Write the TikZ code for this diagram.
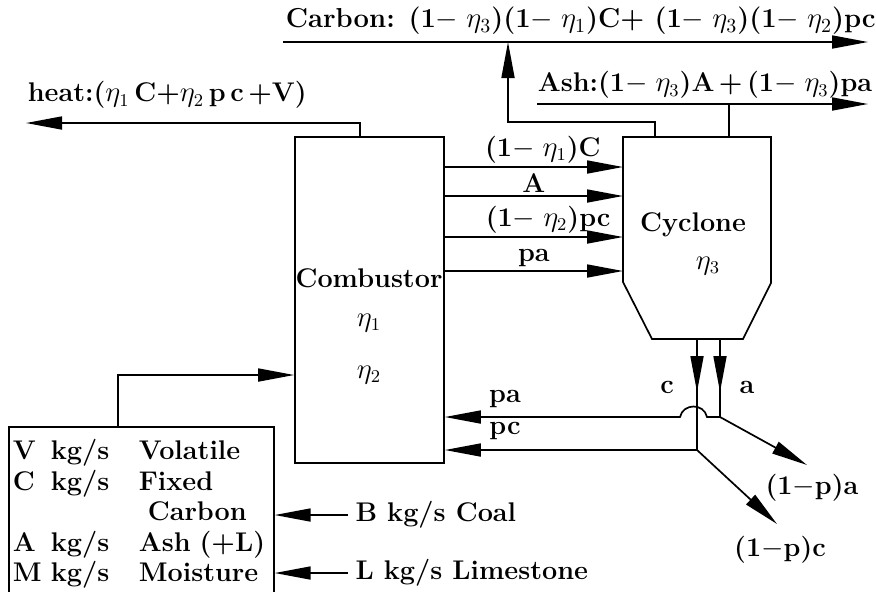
\documentclass[tikz,border=0pt]{standalone}
\usepackage{fontspec}
\usepackage{array}
\usetikzlibrary{arrows.meta}
\newcommand{\oneminus}[1]{(1$-\;\eta_{#1}$)}

\begin{document}
\begin{tikzpicture}[x=0.5pt,y=-0.5pt,line width=0.85pt,
  >={Triangle[length=18pt,width=6.5pt]},
  every node/.style={font=\fontsize{13.5}{15.25}\selectfont\bfseries},
  flow/.style={above,inner sep=1.5pt},
  eqn/.style={anchor=west,inner sep=0pt,font=\fontsize{13.7}{16}\selectfont\bfseries}]
  \useasboundingbox (0,0) rectangle (876,591);
  % combustor
  \node[draw,minimum width=74.5pt,minimum height=163pt] (comb) at (369.5,300) {};
  \node (combname) at (369,278) {Combustor};
  \node (eta1) at (369,323) {$\eta_1$};
  \node (eta2) at (369,375) {$\eta_2$};
  % cyclone
  \draw (623,282) -- (623,137) coordinate (cyc nw) -- (771,137) coordinate (cyc ne)
    -- (771,283) -- (743,339) coordinate (cyc se) -- (652,339) coordinate (cyc sw) -- cycle;
  \node[font=\fontsize{13.5}{15.25}\selectfont\bfseries\addfontfeature{LetterSpace=16}] (cycname) at (693,225) {Cyclone};
  \node (eta3) at (708,266) {$\eta_3$};
  % streams into the cyclone
  \coordinate (in1) at (623,167);
  \coordinate (in2) at (623,196);
  \coordinate (in3) at (623,237);
  \coordinate (in4) at (623,271);
  \draw[->] (comb.east |- in1) -- (in1) node[flow,pos=0.55] {\oneminus1C};
  \draw[->] (comb.east |- in2) -- (in2) node[flow,midway] {A};
  \draw[->] (comb.east |- in3) -- (in3) node[flow,pos=0.58] {\oneminus2pc};
  \draw[->] (comb.east |- in4) -- (in4) node[flow,midway] {pa};
  % heat
  \coordinate (heatend) at (26,123);
  \draw[->] ([xshift=33pt]comb.north west) |- (heatend);
  \node[anchor=west,inner sep=0pt] (heat) at (27,95) {heat:($\eta_1\,$C+$\eta_2\,$p\,c\,+V)};
  % carbon and ash out of the cyclone
  \coordinate (cstart) at (283,42);
  \coordinate (cend) at (868,42);
  \coordinate (cup) at (508,42);
  \draw[->] (cstart) -- (cend);
  \draw[->] ([xshift=16pt]cyc nw) -- ++(0,-15) -| (cup);
  \node[eqn] (carbon) at (285,21) {Carbon: \oneminus3\oneminus1C+ \oneminus3\oneminus2pc};
  \coordinate (astart) at (537,104);
  \coordinate (aend) at (868,104);
  \draw[->] (astart) -- (aend);
  \draw ([xshift=53pt]cyc nw) -- ([xshift=53pt]cyc nw |- astart);
  \node[anchor=west,inner sep=0pt] (ash) at (537,85) {Ash:\oneminus3A\,+\,\oneminus3pa};
  % underflow of the cyclone
  \coordinate (cout) at (697,339);
  \coordinate (aout) at (720,339);
  \coordinate (cjoin) at (697,450);
  \coordinate (ajoin) at (720,417);
  \draw[->] (cout) -- ++(0,53);
  \draw[->] (aout) -- ++(0,53);
  \draw (cout) -- (cjoin);
  \draw (aout) -- (ajoin);
  \node (clbl) at (667,387) {c};
  \node (albl) at (747,387) {a};
  \draw[->] (ajoin) -- (707,417) .. controls (704,403) and (683,403) .. (680,417) -- (comb.east |- ajoin);
  \draw[->] (cjoin) -- (comb.east |- cjoin);
  \node (palbl) at (505,399) {pa};
  \node (pclbl) at (505,431) {pc};
  \coordinate (aleave) at (807,465);
  \coordinate (cleave) at (777,524);
  \draw[->] (ajoin) -- (aleave);
  \draw[->] (cjoin) -- (cleave);
  \node (alost) at (812,488) {(1$-$p)a};
  \node (clost) at (780,550) {(1$-$p)c};
  % coal feed
  \node[draw,anchor=north west,text width=128.5pt,inner xsep=2pt,inner ysep=5.8pt,align=left] (feed) at (8,426)
    {\addfontfeature{LetterSpace=3}\begin{tabular}{@{}p{19pt}@{}p{44pt}@{}l@{}}
     V & kg/s & Volatile\\
     C & kg/s & Fixed\\
       &      & \,\,Carbon\\
     A & kg/s & Ash (+L)\\
     M & kg/s & Moisture
     \end{tabular}};
  \draw[->] ([xshift=55pt]feed.north west) |- (comb.west |- eta2);
  \node[anchor=west] (coal) at (348,515) {B kg/s Coal};
  \node[anchor=west] (lime) at (348,573) {L kg/s Limestone};
  \draw[->] (coal.west) -- (coal.west -| feed.east);
  \draw[->] (lime.west) -- (lime.west -| feed.east);
\end{tikzpicture}
\end{document}
